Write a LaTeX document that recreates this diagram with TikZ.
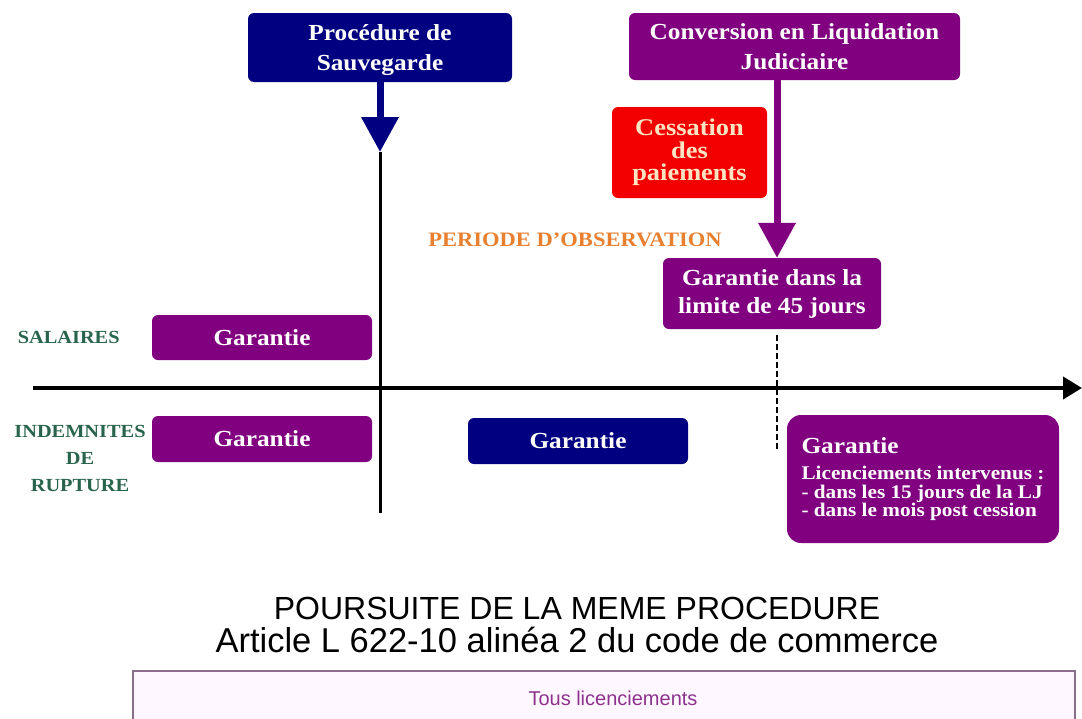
\documentclass[tikz,border=0pt]{standalone}
\usepackage{fontspec}
\setmainfont{Liberation Serif}[FakeStretch=1.1]
\setsansfont{Liberation Sans}
\usetikzlibrary{arrows.meta,positioning,calc}
\usepackage{xcolor}
\definecolor{sauvblue}{RGB}{0,0,128}
\definecolor{ljpurple}{RGB}{128,0,128}
\definecolor{cessred}{RGB}{242,0,0}
\definecolor{cesstext}{RGB}{255,228,196}
\definecolor{obsorange}{RGB}{232,128,48}
\definecolor{labgreen}{RGB}{40,100,75}
\definecolor{boxline}{RGB}{140,110,140}
\definecolor{boxfill}{RGB}{255,247,255}
\definecolor{tousviolet}{RGB}{140,50,140}
\newcommand{\boxfont}{\fontsize{23}{30}\selectfont\bfseries}
\newcommand{\labfont}{\fontsize{18.5}{27}\selectfont\bfseries}
\tikzset{
	block/.style={
		rectangle,
		rounded corners=6pt,
		text=white,
		font=\boxfont,
		align=center,
		inner sep=0pt,
	},
	blueblock/.style={
		block,
		fill=sauvblue,
	},
	purpleblock/.style={
		block,
		fill=ljpurple,
	},
	rowlabel/.style={
		text=labgreen,
		font=\labfont,
		align=center,
		inner sep=0pt,
	},
	bigarrow/.style={
		-{Triangle[length=35pt,width=36pt]},
		line width=7pt,
	},
	axis/.style={
		-{Triangle[length=19pt,width=22pt]},
		line width=4pt,
	},
	vline/.style={
		line width=3pt,
	},
	dashline/.style={
		line width=2pt,
		dash pattern=on 6pt off 3pt,
	},
}

\begin{document}
\begin{tikzpicture}[x=1pt,y=-1pt]
	\useasboundingbox (0,0) rectangle (1082,718);

	\node [
      blueblock,
      minimum width=264pt,
      minimum height=69pt,
      text depth=0pt
    ] (sauv) at (380,47.5) {Procédure de\\Sauvegarde};
	\node [
      purpleblock,
      minimum width=331pt,
      minimum height=67pt,
      text depth=0pt
    ] (conv) at (794.5,46.5) {Conversion en Liquidation\\Judiciaire};
	\node [
      block,
      fill=cessred,
      text=cesstext,
      font=\fontsize{24}{22.5}\selectfont\bfseries,
      minimum width=155pt,
      minimum height=91pt
    ] (cess) at (689.5,152.5) {Cessation\\des\\paiements};
	\node [
      text=obsorange,
      font=\fontsize{20.5}{24}\selectfont\bfseries,
      inner sep=0pt
    ] (obs) at (575,240) {PERIODE D'OBSERVATION};
	\node [
      purpleblock,
      font=\fontsize{23}{28}\selectfont\bfseries,
      minimum width=218pt,
      minimum height=71pt
    ] (g45) at (772,293.5) {Garantie dans la\\limite de 45 jours};

	\node [purpleblock, minimum width=220pt, minimum height=45pt] (gsal) at (262,337.5) {Garantie};
	\node [purpleblock, minimum width=220pt, minimum height=46pt] (gind) at (262,439) {Garantie};
	\node [blueblock, minimum width=220pt, minimum height=46pt] (gblue) at (578,441) {Garantie};
	\node [
      purpleblock,
      rounded corners=14pt,
      align=left,
      font=\fontsize{19.3}{18.5}\selectfont\bfseries,
      minimum width=272pt,
      minimum height=128pt
    ] (glj) at (923,479) {{\fontsize{23}{26}\selectfont Garantie}\\[8pt]
      Licenciements intervenus :\\
      - dans les 15 jours de la LJ\\
      - dans le mois post cession};

	\node [rowlabel, left=32pt of gsal] (sal) {SALAIRES};
	\node [rowlabel] (ind) at (80,458) {INDEMNITES\\DE\\RUPTURE};

	\coordinate (ax0) at (33,388);
	\coordinate (ax1) at (1082,388);
	\coordinate (lj) at (777,388);
	\coordinate (stip) at (380,152);
	\coordinate (send) at (380,513);
	\coordinate (dend) at (777,450);

	\draw[axis] (ax0) -- (ax1);
	\draw[vline] (stip) -- (send);
	\draw[bigarrow,sauvblue] (sauv) -- (stip);
	\draw[bigarrow,ljpurple] (conv.south -| lj) -- (g45.north -| lj);
	\draw[dashline] ($(g45.south -| lj)+(0,6)$) -- (dend);

	\node [
      font=\sffamily\fontsize{32}{33}\selectfont,
      align=center,
      inner sep=0pt
    ] (pours) at (577,624.5) {POURSUITE DE LA MEME PROCEDURE\\{\fontsize{34.5}{33}\selectfont Article L 622-10 alinéa 2 du code de commerce}};
	\node [
      draw=boxline,
      fill=boxfill,
      line width=1.5pt,
      text=tousviolet,
      font=\sffamily\fontsize{20}{24}\selectfont,
      minimum width=942pt,
      minimum height=54pt
    ] (tous) at (604,698) {\hspace*{18pt}Tous licenciements};
\end{tikzpicture}
\end{document}
